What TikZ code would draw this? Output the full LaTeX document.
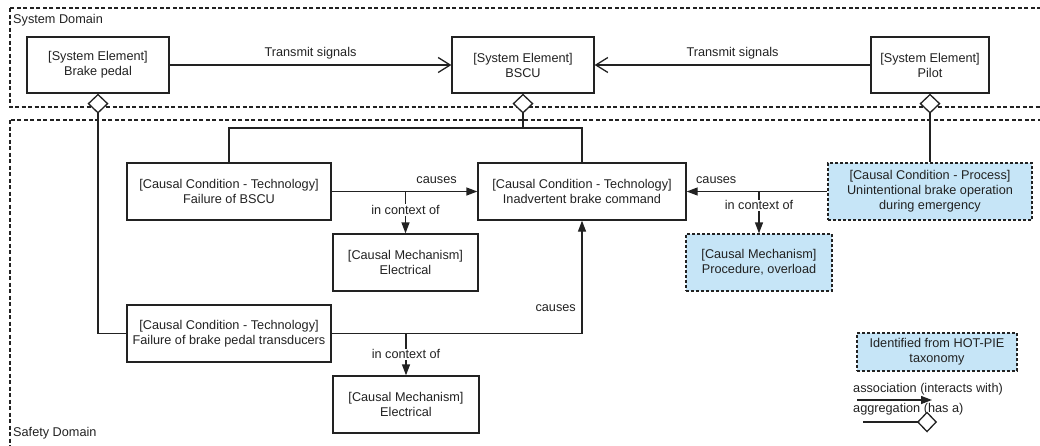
\documentclass[tikz,border=0pt]{standalone}
\usepackage{fontspec}
\setmainfont{Liberation Sans}
\usetikzlibrary{arrows.meta}
\definecolor{hotpie}{HTML}{C6E5F7}
\definecolor{ink}{HTML}{222222}
\begin{document}
\begin{tikzpicture}[x=1pt,y=-1pt,
  every node/.style={font=\fontsize{12.7}{15}\selectfont, text=ink},
  elem/.style={draw=ink, line width=1.3pt, fill=white, align=center, inner sep=0pt},
  hot/.style={elem, fill=hotpie, dash pattern=on 3pt off 2pt},
  domainframe/.style={draw=ink, line width=1.2pt, dash pattern=on 4pt off 2.5pt},
  link/.style={draw=ink, line width=1.3pt},
  signalarrow/.style={link, -{Straight Barb[length=12pt,width=15pt,line width=1.3pt]}},
  assoc/.style={link, -{Triangle[length=11pt,width=8pt]}},
  agg/.style={link, {Diamond[length=20pt,width=21pt,fill=white,line width=1.3pt]}-},
  ctx/.style={fill=white, inner sep=1pt},
]
\clip (0,0) rectangle (1040,445);

% domains
\draw[domainframe] (10,8) rectangle (1044,107);
\draw[domainframe] (10,120) rectangle (1044,450);
\node[anchor=west, inner sep=0pt] (sysdom) at (13,20) {System Domain};
\node[anchor=west, inner sep=0pt] (safdom) at (13,433) {Safety Domain};

% system elements
\node[elem, minimum width=142pt, minimum height=56pt] (pedal) at (98,65) {[System Element]\\Brake pedal};
\node[elem, minimum width=142pt, minimum height=56pt] (bscu) at (523,65) {[System Element]\\BSCU};
\node[elem, minimum width=118pt, minimum height=56pt] (pilot) at (930,65) {[System Element]\\Pilot};

% causal conditions
\node[elem, minimum width=204pt, minimum height=57pt] (fbscu) at (229,191.5) {[Causal Condition - Technology]\\Failure of BSCU};
\node[elem, minimum width=208pt, minimum height=57pt] (inad) at (582,191.5) {[Causal Condition - Technology]\\Inadvertent brake command};
\node[hot, minimum width=204pt, minimum height=57pt] (process) at (930,191.5) {[Causal Condition - Process]\\Unintentional brake operation\\during emergency};
\node[elem, minimum width=204pt, minimum height=57pt] (ftrans) at (229,333.5) {[Causal Condition - Technology]\\Failure of brake pedal transducers};

% causal mechanisms
\node[elem, minimum width=145pt, minimum height=57pt] (elec1) at (405.5,262.5) {[Causal Mechanism]\\Electrical};
\node[hot, minimum width=146pt, minimum height=57pt] (mproc) at (759,262.5) {[Causal Mechanism]\\Procedure, overload};
\node[elem, minimum width=146pt, minimum height=57pt] (elec2) at (406,404.5) {[Causal Mechanism]\\Electrical};

% signals between system elements
\draw[signalarrow] (pedal) -- node[midway, yshift=12pt] (sig1) {Transmit signals} (bscu);
\draw[signalarrow] (pilot) -- node[midway, yshift=12pt] (sig2) {Transmit signals} (bscu);

% aggregations
\coordinate (bj) at (523,128);
\draw[agg] (bscu.south) -- (bj) -| (fbscu.north);
\draw[link] (bj) -| (inad.north);
\draw[agg] (pilot.south) -- (process.north);
\draw[agg] (pedal.south) |- (ftrans.west);

% causes
\draw[assoc] (fbscu.east) -- node[pos=0.72, yshift=11pt] (cz1) {causes} (inad.west);
\draw[assoc] (process.west) -- node[pos=0.79, yshift=11pt] (cz2) {causes} (inad.east);
\draw[assoc] (ftrans.east) -| (inad.south);
\node[anchor=east, inner sep=0pt] (cz3) at (576,308) {causes};

% context
\coordinate (c1) at (fbscu.east -| elec1.north);
\coordinate (c2) at (process.west -| mproc.north);
\coordinate (c3) at (ftrans.east -| elec2.north);
\draw[assoc] (c1) -- node[ctx, pos=0.44] (ctx1) {in context of} (elec1.north);
\draw[assoc] (c2) -- node[ctx, pos=0.33] (ctx2) {in context of} (mproc.north);
\draw[assoc] (c3) -- node[ctx, pos=0.5] (ctx3) {in context of} (elec2.north);

% legend
\node[hot, minimum width=160pt, minimum height=38pt] (legend) at (937,352) {Identified from HOT-PIE\\taxonomy};
\node[anchor=west, inner sep=0pt] (assoclbl) at (853,389) {association (interacts with)};
\coordinate (a1) at (857,400);
\coordinate (a2) at (932,400);
\draw[assoc] (a1) -- (a2);
\node[anchor=west, inner sep=0pt] (agglbl) at (853,409) {aggregation (has a)};
\coordinate (g1) at (937,422);
\coordinate (g2) at (863,422);
\draw[agg] (g1) -- (g2);
\end{tikzpicture}
\end{document}
